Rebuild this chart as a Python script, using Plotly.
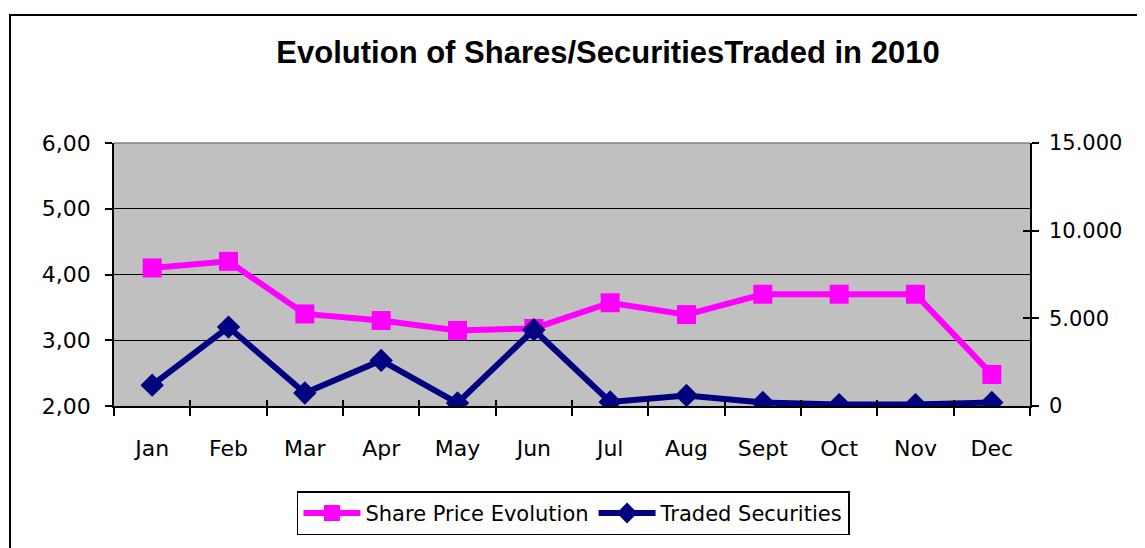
import plotly.graph_objects as go

months = ["Jan", "Feb", "Mar", "Apr", "May", "Jun", "Jul", "Aug", "Sept", "Oct", "Nov", "Dec"]
share_price = [4.10, 4.20, 3.40, 3.30, 3.15, 3.18, 3.57, 3.39, 3.70, 3.70, 3.70, 2.48]
traded = [1190, 4500, 740, 2600, 170, 4350, 230, 600, 200, 80, 80, 200]

left_vals = [2, 3, 4, 5, 6]
left_text = ["2,00", "3,00", "4,00", "5,00", "6,00"]
right_vals = [0, 5000, 10000, 15000]
right_text = ["0", "5.000", "10.000", "15.000"]

FONT = "DejaVu Sans"

fig = go.Figure()
fig.add_trace(go.Scatter(
    x=months, y=share_price, name="Share Price Evolution", mode="lines+markers",
    line=dict(color="#FF00FF", width=6),
    marker=dict(symbol="square", size=19, color="#FF00FF"),
    yaxis="y",
))
fig.add_trace(go.Scatter(
    x=months, y=traded, name="Traded Securities", mode="lines+markers",
    line=dict(color="#000080", width=6),
    marker=dict(symbol="diamond", size=18, color="#000080"),
    yaxis="y2",
))
# invisible helper trace so the inner-tick overlay axes get drawn
fig.add_trace(go.Scatter(
    x=months, y=[None] * len(months), xaxis="x2", yaxis="y3",
    showlegend=False, hoverinfo="skip", mode="lines",
))

# page body has an 8px margin, so the figure is made 8px smaller
W, H = 1137, 540
L, T = 106, 135
PW, PH = 916, 265

fig.update_layout(
    width=W, height=H,
    margin=dict(l=L, r=W - L - PW, t=T, b=H - T - PH),
    paper_bgcolor="white",
    plot_bgcolor="#C0C0C0",
    showlegend=True,
    title=dict(text="<b>Evolution of Shares/SecuritiesTraded in 2010</b>",
               x=600 / W, xanchor="center", y=1 - 44 / H, yanchor="middle",
               font=dict(family="Liberation Sans", size=31, color="black")),
    xaxis=dict(
        type="category", categoryorder="array", categoryarray=months,
        showline=True, linecolor="black", linewidth=1.5,
        ticks="outside", ticklen=8, tickcolor="black", tickwidth=1.5,
        tickson="boundaries", showgrid=False,
        ticklabelstandoff=22,
        tickfont=dict(family=FONT, size=22, color="black"),
        range=[-0.5, 11.5],
    ),
    xaxis2=dict(
        type="category", categoryorder="array", categoryarray=months,
        overlaying="x", anchor="y", side="bottom",
        ticks="inside", ticklen=6, tickcolor="black", tickwidth=1.5,
        tickson="boundaries", showgrid=False, showline=False, showticklabels=False,
        range=[-0.5, 11.5],
    ),
    yaxis=dict(
        range=[2, 6], tickvals=left_vals, ticktext=left_text,
        showline=True, linecolor="black", linewidth=1.5,
        ticks="outside", ticklen=7, tickcolor="black", tickwidth=1.5,
        showgrid=True, gridcolor="black", gridwidth=1,
        zeroline=False, ticklabelstandoff=10,
        tickfont=dict(family=FONT, size=22, color="black"),
    ),
    yaxis2=dict(
        range=[0, 15000], tickvals=right_vals, ticktext=right_text,
        overlaying="y", side="right",
        showline=True, linecolor="black", linewidth=1.5,
        ticks="outside", ticklen=7, tickcolor="black", tickwidth=1.5,
        showgrid=False, zeroline=False, ticklabelstandoff=6,
        tickfont=dict(family=FONT, size=21, color="black"),
    ),
    yaxis3=dict(
        range=[0, 15000], tickvals=right_vals, overlaying="y", side="right",
        anchor="x",
        ticks="inside", ticklen=7, tickcolor="black", tickwidth=1.5,
        showticklabels=False, showgrid=False, zeroline=False, showline=False,
    ),
    legend=dict(
        orientation="h", x=0.5016, xanchor="center", y=-0.3245, yanchor="top",
        bordercolor="black", borderwidth=1.5, bgcolor="white",
        font=dict(family=FONT, size=21, color="black"),
        itemwidth=57,
    ),
    shapes=[
        # plot area top border (gray)
        dict(type="line", xref="paper", yref="paper", x0=0, x1=1, y0=1, y1=1,
             line=dict(color="#808080", width=1.5)),
        # outer chart frame
        dict(type="rect", xref="paper", yref="paper",
             x0=(10 - 114) / PW, x1=(1300 - 114) / PW,
             y0=(408 - 14) / PH, y1=(408 - 700) / PH,
             line=dict(color="black", width=2), fillcolor="rgba(0,0,0,0)", layer="below"),
    ],
)

fig.write_html("out.html")
